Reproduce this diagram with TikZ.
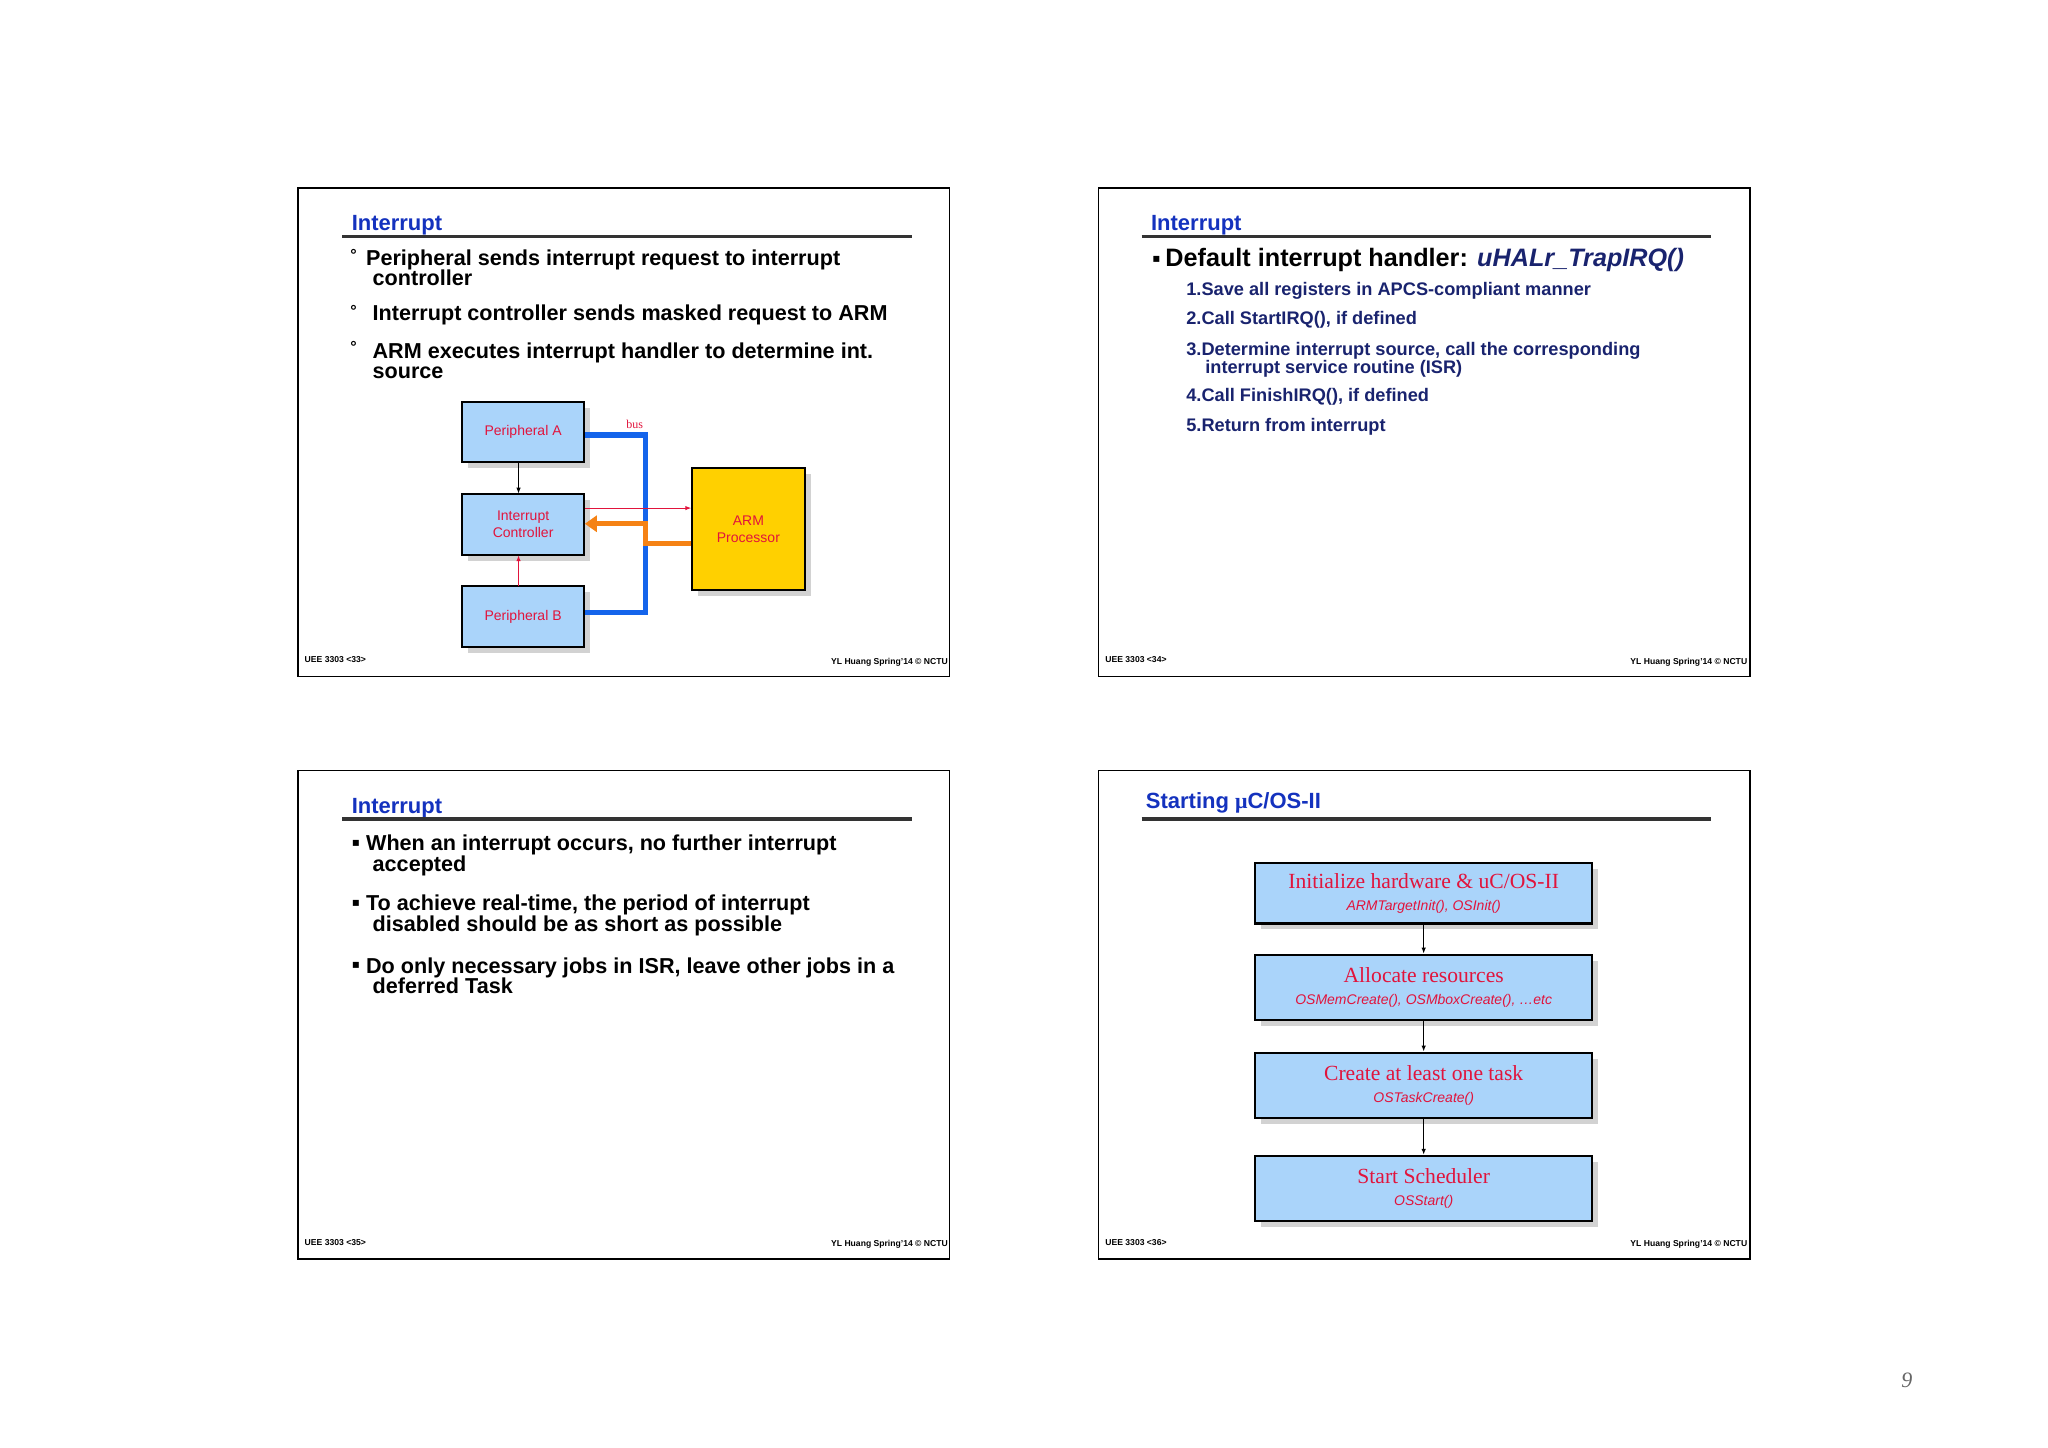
\documentclass[tikz,border=0pt]{standalone}
\usepackage{fontspec}
\setmainfont{Liberation Sans}
\newfontfamily\serifF{Liberation Serif}
\newfontfamily\dejavu{DejaVu Sans}
\usetikzlibrary{arrows.meta,shadows}
\definecolor{ttl}{RGB}{20,50,190}
\definecolor{navy}{RGB}{25,35,110}
\definecolor{boxb}{RGB}{170,212,250}
\definecolor{redt}{RGB}{225,20,60}
\definecolor{armY}{RGB}{255,208,0}
\definecolor{busB}{RGB}{20,100,235}
\definecolor{orng}{RGB}{245,130,20}
\tikzset{
 frame/.style={draw=black,line width=0.8pt},
 ttlS/.style={anchor=west,inner sep=0,text=ttl,font=\fontsize{11}{13}\selectfont\bfseries},
 rul/.style={line width=1.6pt,draw=black!80},
 blt/.style={anchor=west,inner sep=0,align=left,font=\fontsize{10.8}{10.2}\selectfont\bfseries},
 dg/.style={anchor=west,inner sep=0,font=\fontsize{8}{8}\selectfont\bfseries},
 sq/.style={anchor=west,inner sep=0,font=\dejavu\fontsize{6}{6}\selectfont},
 itm/.style={anchor=west,inner sep=0,align=left,text=navy,font=\fontsize{9.1}{9.4}\selectfont\bfseries},
 foot/.style={inner sep=0,font=\fontsize{4.3}{5}\selectfont\bfseries},
 pbox/.style={draw=black,line width=1pt,fill=boxb,text=redt,align=center,inner sep=0,
   font=\fontsize{7}{8.5}\selectfont,drop shadow={shadow xshift=3pt,shadow yshift=-3pt,fill=black!35}},
 fbox/.style={draw=black,line width=1.1pt,fill=boxb,text=redt,align=center,inner sep=0,
   minimum width=258*0.653pt,drop shadow={shadow xshift=3pt,shadow yshift=-3pt,fill=black!35}},
}
\newcommand{\mainT}[1]{{\serifF\fontsize{10.8}{12}\selectfont #1}}
\newcommand{\subT}[1]{{\fontsize{7}{8}\selectfont\itshape #1}}
\begin{document}
\begin{tikzpicture}[x=0.653pt,y=-0.653pt]
\useasboundingbox (0,0) rectangle (1568,1108);
% frames
\draw[frame] (228,144) rectangle (727,518);
\draw[frame] (841,144) rectangle (1340,518);
\draw[frame] (228,590) rectangle (727,964);
\draw[frame] (841,590) rectangle (1340,964);
% titles and rules
\node[ttlS] (t1) at (269,172.5) {Interrupt};
\node[ttlS] (t2) at (881,172.5) {Interrupt};
\node[ttlS] (t3) at (269,618.5) {Interrupt};
\node[ttlS] (t4) at (877,614.5) {Starting {\serifF\bfseries μ}C/OS-II};
\draw[rul] (262,181) -- (698,181);
\draw[rul] (874,181) -- (1310,181);
\draw[rul] (262,627) -- (698,627);
\draw[rul] (874,627) -- (1310,627);
% footers
\foreach \x/\y/\n in {233/505/33,846/505/34,233/951/35,846/951/36}
  \node[foot,anchor=west] (fl\n) at (\x,\y) {UEE 3303 <\n>};
\foreach \x/\y/\n in {726/507/a,1338/507/b,726/953/c,1338/953/d}
  \node[foot,anchor=east] (fr\n) at (\x,\y) {YL Huang Spring'14 © NCTU};
% slide 1 text
\node[dg] (d1) at (268,195) {°};
\node[blt] (b1) at (280,205) {Peripheral sends interrupt request to interrupt\\\hspace*{3.3pt}controller};
\node[dg] (d2) at (268,238) {°};
\node[blt] (b2) at (285,241) {Interrupt controller sends masked request to ARM};
\node[dg] (d3) at (268,266) {°};
\node[blt] (b3) at (285,276) {ARM executes interrupt handler to determine int.\\source};
% slide 1 diagram
\node[pbox,minimum width=93*0.653pt,minimum height=46*0.653pt] (pa) at (400.5,331) {Peripheral A};
\node[pbox,minimum width=93*0.653pt,minimum height=47*0.653pt] (ic) at (400.5,401.5) {Interrupt\\Controller};
\node[pbox,minimum width=93*0.653pt,minimum height=46*0.653pt] (pb) at (400.5,472) {Peripheral B};
\node[pbox,fill=armY,minimum width=86*0.653pt,minimum height=94*0.653pt] (arm) at (573,405) {ARM\\Processor};
\coordinate (busT) at (494,333);
\coordinate (busB) at (494,469);
\draw[busB,line width=2.6pt] (pa.east |- busT) -- (busT) -- (busB) -- (pb.east |- busB);
\node[text=redt,inner sep=0,font=\serifF\fontsize{6}{6}\selectfont] (busl) at (486,325) {bus};
\coordinate (oA) at (494,416);
\coordinate (oB) at (494,401);
\draw[orng,line width=2.6pt,-{Triangle[length=6pt,width=8pt]}] (arm.west |- oA) -- (oA) -- (oB) -- (ic.east |- oB);
\draw[redt,line width=0.5pt,-{Latex[length=3pt]}] (ic.east |- 0,389) -- (arm.west |- 0,389);
\draw[black,line width=0.6pt,-{Latex[length=3pt]}] (397,354) -- (397,378);
\draw[redt,line width=0.6pt,-{Latex[length=3pt]}] (397,449) -- (397,425);
% slide 2
\node[sq] (s2) at (882,199) {▪};
\node[blt,font=\fontsize{12.6}{12}\selectfont\bfseries] (h2) at (892,199) {Default interrupt handler: {\color{navy}\itshape uHALr\_TrapIRQ()}};
\node[itm] (i1) at (908,223) {1.Save all registers in APCS-compliant manner};
\node[itm] (i2) at (908,245) {2.Call StartIRQ(), if defined};
\node[itm] (i3) at (908,275.5) {3.Determine interrupt source, call the corresponding\\\hspace*{9.5pt}interrupt service routine (ISR)};
\node[itm] (i4) at (908,304) {4.Call FinishIRQ(), if defined};
\node[itm] (i5) at (908,327) {5.Return from interrupt};
% slide 3
\node[sq] (s31) at (269,646) {▪};
\node[blt] (c1) at (280,655) {When an interrupt occurs, no further interrupt\\\hspace*{3.3pt}accepted};
\node[sq] (s32) at (269,692) {▪};
\node[blt] (c2) at (280,701) {To achieve real-time, the period of interrupt\\\hspace*{3.3pt}disabled should be as short as possible};
\node[sq] (s33) at (269,739.5) {▪};
\node[blt] (c3) at (280,747) {Do only necessary jobs in ISR, leave other jobs in a\\\hspace*{3.3pt}deferred Task};
% slide 4 flow
\node[fbox,minimum height=46*0.653pt] (f1) at (1090,684) {\mainT{Initialize hardware \& uC/OS-II}\\[-1pt]\subT{ARMTargetInit(), OSInit()}};
\node[fbox,minimum height=50*0.653pt] (f2) at (1090,756) {\mainT{Allocate resources}\\[-1pt]\subT{OSMemCreate(), OSMboxCreate(), …etc}};
\node[fbox,minimum height=50*0.653pt] (f3) at (1090,831) {\mainT{Create at least one task}\\[-1pt]\subT{OSTaskCreate()}};
\node[fbox,minimum height=50*0.653pt] (f4) at (1090,910) {\mainT{Start Scheduler}\\[-1pt]\subT{OSStart()}};
\foreach \a/\b in {f1/f2,f2/f3,f3/f4}
  \draw[line width=0.8pt,-{Latex[length=3pt]}] (\a) -- (\b);
% page number
\node[text=black!60,font=\serifF\itshape\fontsize{11}{11}\selectfont] (pg) at (1460,1057) {9};
\end{tikzpicture}
\end{document}
